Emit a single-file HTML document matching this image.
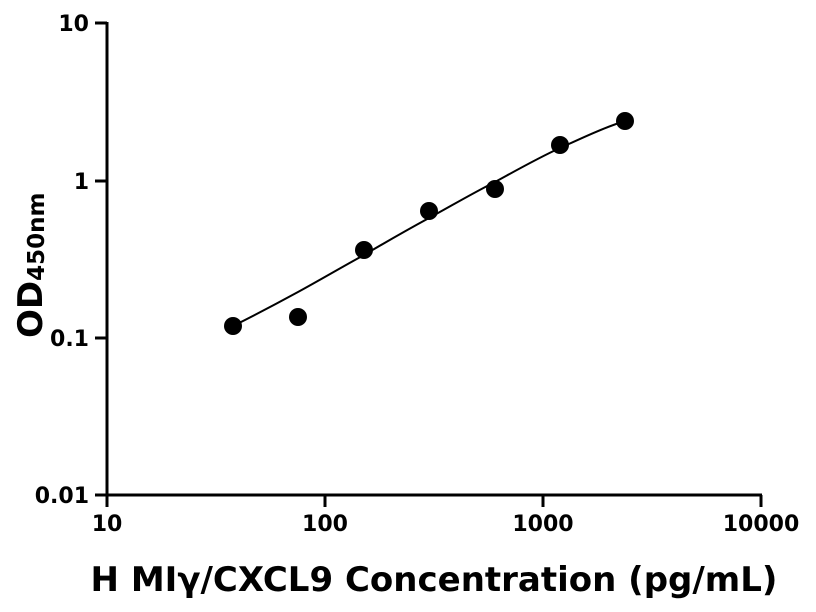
<!DOCTYPE html>
<html><head><meta charset="utf-8"><style>
html,body{margin:0;padding:0;background:#fff;}
svg{display:block;}
text{font-family:"DejaVu Sans","Liberation Sans",sans-serif;font-weight:bold;fill:#000;}
</style></head><body>
<svg width="816" height="612" viewBox="0 0 816 612" xmlns="http://www.w3.org/2000/svg">
<g stroke="#000" stroke-width="3" fill="none">
<line x1="107" y1="22" x2="107" y2="496"/>
<line x1="106" y1="495" x2="762" y2="495"/>
<line x1="95" y1="23" x2="107" y2="23"/>
<line x1="95" y1="181" x2="107" y2="181"/>
<line x1="95" y1="338" x2="107" y2="338"/>
<line x1="95" y1="495" x2="107" y2="495"/>
<line x1="107" y1="495" x2="107" y2="507"/>
<line x1="325" y1="495" x2="325" y2="507"/>
<line x1="543" y1="495" x2="543" y2="507"/>
<line x1="761" y1="495" x2="761" y2="507"/>
</g>
<path d="M233,326 C255,315 276,304 298,292 C320,280 342,267 364,255 C386,242 407,230 429,218 C451,206 473,193 495,182 C517,170 538,158 560,148 C582,138 603,128 625,121" stroke="#000" stroke-width="2" fill="none"/>
<g fill="#000">
<circle cx="233" cy="326" r="9"/>
<circle cx="298" cy="317" r="9"/>
<circle cx="364" cy="250" r="9"/>
<circle cx="429" cy="211" r="9"/>
<circle cx="495" cy="189" r="9"/>
<circle cx="560" cy="145" r="9"/>
<circle cx="625" cy="121" r="9"/>
</g>
<g font-size="22" text-anchor="end">
<text x="89" y="31">10</text>
<text x="89" y="189">1</text>
<text x="89" y="346">0.1</text>
<text x="89" y="503">0.01</text>
</g>
<g font-size="22" text-anchor="middle">
<text x="107" y="531">10</text>
<text x="325" y="531">100</text>
<text x="543" y="531">1000</text>
<text x="761" y="531">10000</text>
</g>
<text x="434" y="591" font-size="34" text-anchor="middle">H MIγ/CXCL9 Concentration (pg/mL)</text>
<text transform="translate(42,338) rotate(-90)" font-size="34">OD<tspan font-size="23" dy="2">450nm</tspan></text>
</svg>
</body></html>
